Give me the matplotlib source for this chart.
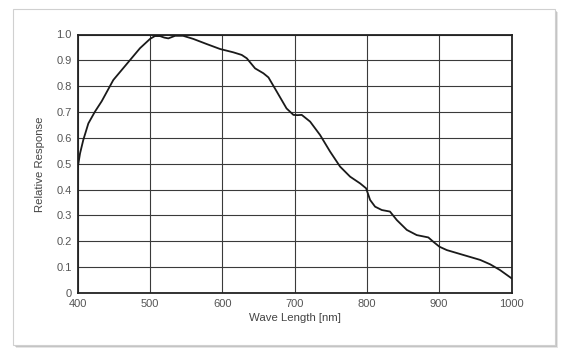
import matplotlib.pyplot as plt
from matplotlib.patches import Rectangle

# Wavelength (nm) and relative response
wave = [400, 403.5, 408, 415, 424, 433.5, 449.5, 472.6, 486.4, 500.3, 507, 514, 520,
        525.6, 535, 546, 560, 578.7, 597, 615.5, 627, 634, 645.5, 657, 664, 675.5,
        689, 698.5, 704, 710, 721.6, 735.4, 749.2, 763, 776.9, 790.7, 799,
        804.5, 811.4, 820.7, 832, 841.5, 855.3, 869, 885, 892, 900.4, 910.6,
        933.6, 956.7, 970.5, 984, 1000]
response = [0.48, 0.54, 0.592, 0.656, 0.701, 0.742, 0.824, 0.901, 0.947, 0.983, 0.994,
            0.994, 0.988, 0.985, 0.995, 0.995, 0.983, 0.963, 0.944, 0.931, 0.921, 0.908,
            0.869, 0.850, 0.834, 0.779, 0.714, 0.689, 0.688, 0.689, 0.663, 0.611,
            0.547, 0.489, 0.450, 0.424, 0.405, 0.360, 0.334, 0.321, 0.315, 0.282,
            0.244, 0.224, 0.215, 0.198, 0.179, 0.166, 0.147, 0.128, 0.111, 0.089,
            0.057]

x_ticks = [400, 500, 600, 700, 800, 900, 1000]
y_ticks = [0, 0.1, 0.2, 0.3, 0.4, 0.5, 0.6, 0.7, 0.8, 0.9, 1.0]
y_labels = ['0', '0.1', '0.2', '0.3', '0.4', '0.5', '0.6', '0.7', '0.8', '0.9', '1.0']

plt.rcParams['font.family'] = ['Liberation Sans', 'DejaVu Sans']

fig = plt.figure(figsize=(5.67, 3.61), dpi=100)
fig.patch.set_facecolor('white')

# panel with a soft drop shadow
W, H = 567.0, 361.0
for i, a in enumerate([0.10, 0.14, 0.20]):
    off = 3 - i
    fig.patches.append(Rectangle(((13 + off) / W, (H - 345 - off) / H), 542 / W, 336 / H,
                                 transform=fig.transFigure, facecolor='#000000',
                                 edgecolor='none', alpha=a, zorder=-3))
fig.patches.append(Rectangle((13 / W, (H - 345) / H), 542 / W, 336 / H,
                             transform=fig.transFigure, facecolor='white',
                             edgecolor='#d0d0d0', linewidth=0.8, zorder=-2))

ax = fig.add_axes([77.5 / W, (H - 293) / H, 434 / W, 258.5 / H])
ax.set_zorder(5)
ax.set_facecolor('white')
ax.plot(wave, response, color='#1a1a1a', linewidth=1.3, zorder=3)

ax.set_xlim(400, 1000)
ax.set_ylim(0, 1.0)
ax.set_xticks(x_ticks)
ax.set_yticks(y_ticks)
ax.set_yticklabels(y_labels)
ax.grid(True, color='#3a3a3a', linewidth=0.8)
ax.set_axisbelow(True)
ax.tick_params(length=0, labelsize=8, labelcolor='#555555', pad=4)
for s in ax.spines.values():
    s.set_color('#222222')
    s.set_linewidth(1.3)

ax.set_xlabel('Wave Length [nm]', fontsize=8.2, color='#444444', labelpad=3)
ax.set_ylabel('Relative Response', fontsize=8.2, color='#444444', labelpad=8)

fig.savefig('out.png', dpi=100)
